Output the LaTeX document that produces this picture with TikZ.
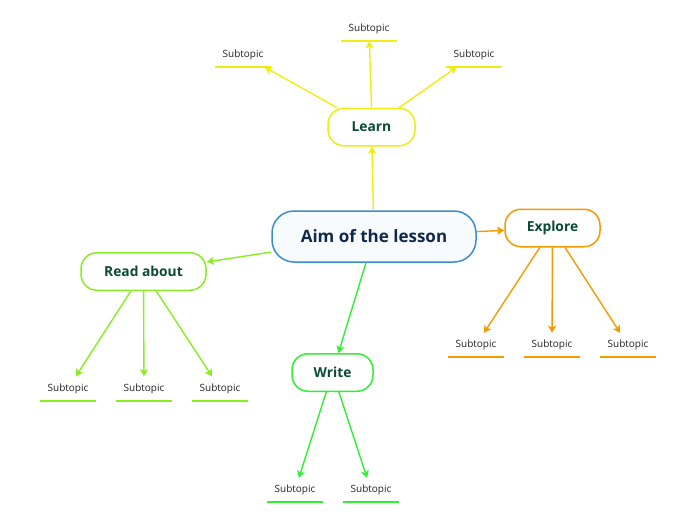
\documentclass[tikz,border=0pt]{standalone}
\usepackage{fontspec}
\setmainfont{Open Sans}
\usetikzlibrary{arrows.meta}
\definecolor{cblue}{HTML}{3A8DD0}
\definecolor{cfillb}{HTML}{F7FBFE}
\definecolor{cyel}{HTML}{EEEE10}
\definecolor{clime}{HTML}{88EE22}
\definecolor{cgreen}{HTML}{33EE33}
\definecolor{corange}{HTML}{F59B00}
\definecolor{cnavy}{HTML}{10284A}
\definecolor{cdgreen}{HTML}{0B4A36}
\definecolor{csub}{HTML}{222222}
\tikzset{
  central/.style={draw=cblue, fill=cfillb, line width=1.5pt, rounded corners=22pt,
    minimum width=204pt, minimum height=51pt, inner sep=0pt,
    font=\fontsize{17}{20}\selectfont\bfseries, text=cnavy},
  branch/.style={draw=#1, fill=white, line width=1.5pt, rounded corners=16pt,
    minimum height=37.5pt, inner sep=0pt, font=\fontsize{13.8}{16}\selectfont\bfseries, text=cdgreen},
  subtopic/.style={minimum width=56pt, minimum height=24pt, inner sep=0pt,
    font=\fontsize{10}{12}\selectfont, text=csub,
    append after command={(\tikzlastnode.south west) edge[draw=#1, line width=2.2pt] (\tikzlastnode.south east)}},
  conn/.style={draw=#1, line width=1.4pt, -{Stealth[length=7pt,width=8pt,inset=1.5pt]}},
}
\begin{document}
\begin{tikzpicture}[x=1pt,y=-1pt]
\useasboundingbox (0,0) rectangle (696,520);
\node[central] (aim) at (374,236.5) {Aim of the lesson};
\node[branch=cyel, minimum width=87pt] (learn) at (371.5,127) {Learn};
\node[branch=corange, minimum width=95pt] (explore) at (552.5,228) {Explore};
\node[branch=clime, minimum width=125pt] (read) at (143.5,271.5) {Read about};
\node[branch=cgreen, minimum width=81pt] (write) at (332.5,372.5) {Write};
% subtopics
\node[subtopic=cyel] (l1) at (243,55) {Subtopic};
\node[subtopic=cyel] (l2) at (369,29) {Subtopic};
\node[subtopic=cyel] (l3) at (474,55) {Subtopic};
\node[subtopic=corange] (e1) at (476,345) {Subtopic};
\node[subtopic=corange] (e2) at (552,345) {Subtopic};
\node[subtopic=corange] (e3) at (628,345) {Subtopic};
\node[subtopic=clime] (r1) at (68,388.5) {Subtopic};
\node[subtopic=clime] (r2) at (144,388.5) {Subtopic};
\node[subtopic=clime] (r3) at (220,388.5) {Subtopic};
\node[subtopic=cgreen] (w1) at (295,490) {Subtopic};
\node[subtopic=cgreen] (w2) at (371,490) {Subtopic};
% connectors
\draw[conn=cyel] (aim) -- (learn);
\draw[conn=corange] (aim) -- (explore);
\draw[conn=clime] (aim) -- (read);
\draw[conn=cgreen] (aim) -- (write);
\draw[conn=cyel] (learn) -- (l1);
\draw[conn=cyel] (learn.north) -- (l2);
\draw[conn=cyel] (learn) -- (l3);
\draw[conn=corange] (explore) -- (e1);
\draw[conn=corange] (explore) -- (e2);
\draw[conn=corange] (explore) -- (e3);
\draw[conn=clime] (read) -- (r1);
\draw[conn=clime] (read) -- (r2);
\draw[conn=clime] (read) -- (r3);
\draw[conn=cgreen] (write) -- (w1);
\draw[conn=cgreen] (write) -- (w2);
\end{tikzpicture}
\end{document}
